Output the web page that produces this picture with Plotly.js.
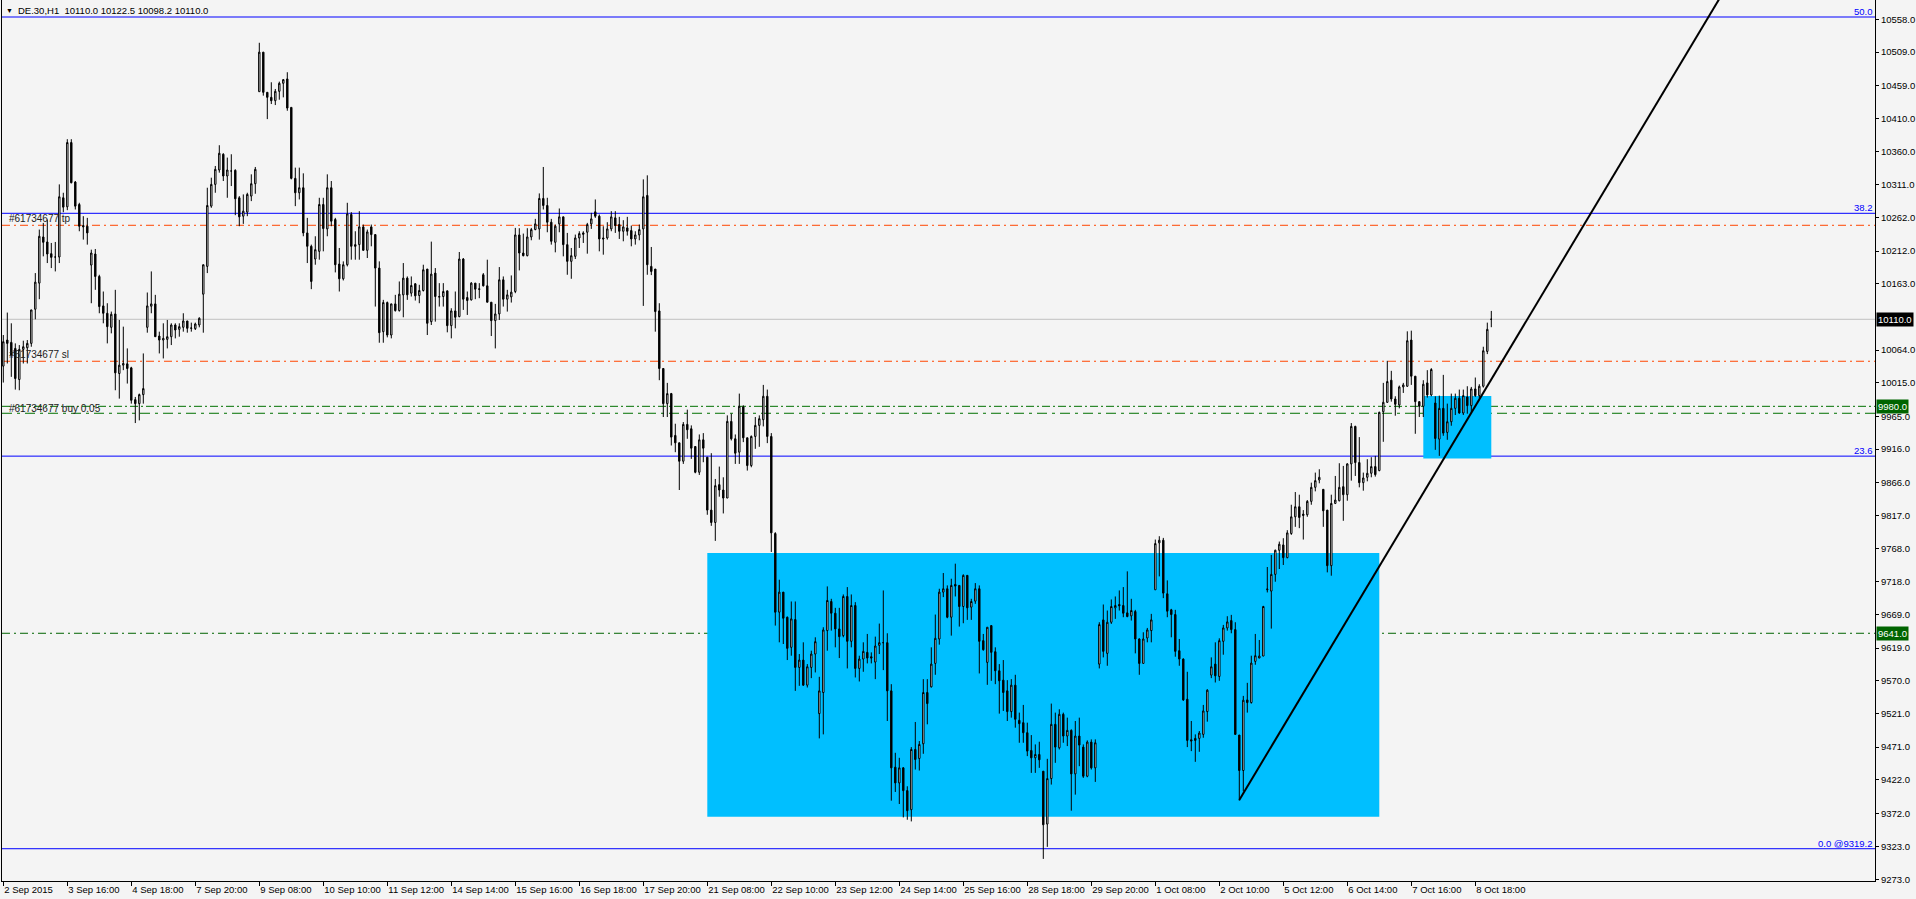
<!DOCTYPE html>
<html><head><meta charset="utf-8">
<script src="https://cdn.plot.ly/plotly-3.0.1.min.js"></script>
<style>html,body{margin:0;padding:0;background:#f4f4f4;overflow:hidden}#chart{width:1916px;height:899px}</style>
</head><body><div id="chart"></div>
<script>
// DE.30 H1 bars, 2 Sep 2015 14:00 .. 8 Oct 2015 (bar index 0..372)
const barOpen = [
10040,10079,10075.5,10066.5,10020,10065,10067.5,10074,10125,10164,
10233,10225.5,10208,10203,10203,10291.5,10278,10374,10315,10281.5,
10250,10249,10191,10207.5,10174,10130,10119,10098,10118,10029,
10041.5,10043.5,10037.5,9990,9984,9997.5,10098,10129.5,10133,10085,
10079,10080,10084,10101.5,10095,10098,10107.5,10096.5,10096,10101.5,
10147.5,10189,10279,10311.5,10333,10356.5,10324,10331.5,10332.5,10291.5,
10264,10270,10294,10312.5,10450,10509,10449,10441.5,10436.5,10450.5,
10462.5,10469,10426.5,10320.5,10299,10306.5,10239,10219,10200,10211.5,
10281.5,10245,10306.5,10259,10192.5,10170.5,10191.5,10266.5,10221.5,10221.5,
10248,10213,10248,10236.5,10186.5,10091.5,10135,10086.5,10133,10123,
10146.5,10171.5,10149,10163,10145.5,10153,10185,10106.5,10179,10143,
10144,10152.5,10100.5,10122.5,10114,10200,10142.5,10139,10164,10154.5,
10176.5,10160,10135.5,10108,10118,10169,10140,10143.5,10151.5,10236,
10209,10205,10233,10244,10245,10290.5,10280,10255,10225,10252.5,
10263,10221.5,10196.5,10204,10231.5,10239,10240,10252.5,10270.5,10264,
10231.5,10231.5,10245,10261.5,10251.5,10241.5,10246.5,10242.5,10230,10236,
10245,10295,10189,10185,10122.5,10036.5,9984,9999,9936.5,9925.5,
9898,9953,9946.5,9920,9881.5,9930,9904,9825,9806.5,9863,
9855,9843,9957.5,9931.5,9911.5,9979,9933,9891.5,9935,9951.5,
9960,9995,9935,9790,9672.5,9702.5,9665,9620,9661.5,9590,
9601,9563.5,9590,9610,9521,9552.5,9645,9688.5,9671,9647.5,
9637.5,9696,9629,9682.5,9588.5,9602.5,9612.5,9606,9598,9623,
9627,9627,9555,9441,9417.5,9440,9406,9377.5,9467.5,9454,
9476,9552.5,9561,9596,9632.5,9702.5,9707.5,9665,9714,9712.5,
9681,9727.5,9680,9689,9707.5,9630,9597.5,9652.5,9613.5,9585,
9571,9555,9524,9563.5,9511,9507.5,9492.5,9466,9455,9460,
9435,9356,9424,9505,9470,9520,9487.5,9496,9431,9487.5,
9471,9427.5,9478.5,9440,9595,9661,9611,9657.5,9679,9684,
9682.5,9671.5,9667,9673.5,9632.5,9596,9634,9645,9706,9776,
9780,9700,9676,9669,9615,9602.5,9542.5,9482,9484,9484,
9490,9524,9578.5,9595,9576.5,9629,9649,9660,9646.5,9489,
9436,9541.5,9537.5,9599,9604,9607,9706,9704,9729,9765,
9773,9754,9790,9815,9830,9819,9818,9838,9859,9870,
9856,9825,9742,9835,9839,9860,9848,9894,9950,9896,
9866,9874,9880,9890,9884,9972,9986,10019,9991,9982,
10009,10010,10079,10025,9987,9980,10015,9997,9985,9931,
9977,9941,9957,9977,9992,9970,9994,9981,10006,9996,
10010,10062,10110];
const barHigh = [
10086.5,10120,10104,10074,10071.5,10078,10079,10124,10179,10244,
10254,10259,10224,10225.5,10311.5,10299,10379,10379,10316.5,10284,
10264,10261.5,10214,10215,10176.5,10151.5,10134,10121.5,10154,10109,
10099,10066.5,10039,9994,9999,10059,10150,10181.5,10146.5,10091.5,
10104,10109,10104,10104,10104,10119,10107.5,10105,10105,10113,
10191.5,10306.5,10321.5,10339,10370,10358,10351.5,10356.5,10334,10294,
10296.5,10299,10326.5,10337.5,10523,10509,10449,10464,10454,10465,
10468,10479,10426.5,10336.5,10336.5,10328,10261.5,10221.5,10234,10291.5,
10291.5,10326.5,10316.5,10261.5,10216.5,10196.5,10284,10270,10241.5,10271.5,
10251.5,10244,10251.5,10236.5,10196.5,10139,10136.5,10133,10146.5,10166.5,
10194,10174,10174,10164,10161.5,10191.5,10185,10226,10186.5,10164,
10164,10152.5,10126.5,10151.5,10210.5,10201.5,10151.5,10165.5,10164,10164,
10179,10199,10135.5,10133,10188,10174,10154,10175.5,10246.5,10246,
10238,10246,10246.5,10260,10298,10337.5,10291.5,10260,10251.5,10275.5,
10263,10239,10216.5,10236.5,10241.5,10241.5,10254,10269,10289,10266.5,
10249,10255,10271.5,10271.5,10263,10258,10263,10250,10241.5,10251.5,
10319,10325,10218,10185,10134,10036.5,10015,10000,9954,9925.5,
9956.5,9975,9951.5,9920,9938,9940,9904,9910,9871.5,9890,
9874,9966.5,9969,9938,9999,9981.5,9933,9936.5,9964,9966.5,
10012,10005,9940,9792,9721,9702.5,9666,9688.5,9688.5,9610,
9627.5,9595,9615,9635,9576,9650,9711,9692.5,9679,9679,
9699,9710,9699,9687.5,9607.5,9627.5,9640,9612.5,9636,9655.5,
9705,9641,9565,9462.5,9455,9441,9412.5,9471,9508.5,9480,
9572.5,9572.5,9620,9669,9707.5,9731,9712.5,9722.5,9745,9712.5,
9729,9727.5,9692.5,9716,9712.5,9640,9650,9652.5,9620,9595,
9601,9571,9572.5,9579,9522.5,9534,9507.5,9489,9475,9479,
9435,9453.5,9536,9522.5,9527.5,9522.5,9515,9497.5,9510,9515,
9475,9481,9482.5,9482.5,9657.5,9684,9675,9691.5,9696,9705,
9710,9733.5,9692.5,9676,9633.5,9642.5,9649,9670,9781,9786,
9783.5,9720,9677.5,9676,9632.5,9603.5,9583.5,9510,9490,9495,
9534,9557.5,9605,9627.5,9633.5,9653.5,9666.5,9668.5,9657.5,9489,
9547.5,9567,9607.5,9640,9631,9682,9740,9758,9766,9778,
9783,9795,9833,9852,9848,9825,9840,9866,9881,9886,
9856,9825,9848,9876,9895,9891,9895,9955,9951,9934,
9881,9901,9904,9906,9972,10015,10048,10033,9995,10011,
10015,10092,10093,10025,9987,10019,10034,10037,9995,9996,
10027,9984,9999,9999,10005,10005,10010,10009,10023,10013,
10069,10105,10122.5];
const barLow = [
10015.5,10044,10024,10005,10004,10044,10044,10069,10110,10140,
10204,10194,10186.5,10181.5,10194,10270,10273,10313,10274,10241.5,
10229,10221.5,10134,10154,10119,10104,10074,10089,10004,9991.5,
10034,10014,9984,9955,9959,9984,10090,10119,10084,10059,
10051.5,10066.5,10071.5,10081.5,10084,10091.5,10090,10091.5,10094,10098,
10090,10179,10276.5,10299,10329,10316.5,10291.5,10309,10265.5,10249,
10252.5,10264,10286.5,10297.5,10450,10444,10409,10431.5,10430,10438,
10441.5,10421.5,10319,10279,10289,10234,10194,10155,10191.5,10199,
10211.5,10234,10249,10180,10151.5,10168,10189,10199,10199,10199,
10213,10201.5,10219,10129,10075,10075,10083,10081.5,10121.5,10121.5,
10113,10139,10144,10138,10134,10151.5,10086.5,10101.5,10106.5,10129,
10129,10090.5,10081.5,10096.5,10113,10124,10116.5,10138,10140,10141.5,
10159,10135.5,10085,10066.5,10109,10129,10121.5,10135,10149,10183,
10204,10204,10228,10243,10229,10274,10240,10221.5,10210,10240,
10204,10176.5,10170.5,10200,10216.5,10224,10208,10245,10261.5,10211.5,
10206.5,10229,10241.5,10239,10230,10226.5,10235,10219,10221.5,10228,
10130,10176.5,10176,10091.5,10019,9964,9964,9921.5,9911.5,9855,
9894,9931.5,9901.5,9880,9877.5,9896.5,9818,9801.5,9779,9845,
9820,9843,9929,9894,9894,9926.5,9884,9889,9916.5,9919.5,
9950,9925,9762.5,9652.5,9627.5,9625,9601,9607.5,9555,9562.5,
9562.5,9560,9574,9582.5,9484,9490,9615,9645,9620,9604,
9635,9588.5,9620,9575,9569,9583.5,9596,9596,9572.5,9610,
9586,9510,9391,9404,9386,9366,9362.5,9360,9437.5,9436,
9461,9505,9560,9579,9624,9695,9663.5,9637.5,9696,9651,
9656,9661,9661,9685,9581,9615,9564,9570,9565,9521,
9525,9510,9515,9500,9477.5,9477.5,9457.5,9432.5,9432.5,9440,
9304,9322,9415,9447.5,9467.5,9477.5,9472.5,9376,9400,9442.5,
9425,9426,9437.5,9419,9588.5,9605,9592.5,9655,9662.5,9675,
9665,9665,9660,9611,9579,9596,9627.5,9627.5,9706,9726,
9693.5,9665,9635,9606,9592.5,9540,9471,9465,9449,9464,
9485,9509,9574,9567.5,9570,9609,9645,9641,9490,9391,
9405,9522.5,9536,9594,9604,9607,9702,9648,9718,9737,
9743,9753,9788,9800,9798,9781,9815,9833,9853,9865,
9800,9732,9727,9834,9838,9809,9839,9869,9876,9859,
9854,9868,9874,9875,9883,9927,9985,9987,9966,9977,
10000,10009,10012,9939,9964,9964,9993,9995,9915,9906,
9936,9930,9951,9967,9969,9967,9969,9970,9994,9992,
10008,10058,10098.2];
const barClose = [
10076.5,10074,10056.5,10021.5,10065,10069,10074,10124,10165.5,10234,
10225,10207.5,10202.5,10203,10293,10277.5,10374,10314,10279,10249,
10248,10239,10209,10174,10129,10119,10099,10117.5,10030,10041.5,
10044,10036.5,9989,9984,9997.5,10006.5,10130,10133,10084,10079,
10081.5,10084,10101.5,10094,10099,10107.5,10096.5,10097,10103,10111.5,
10191.5,10280,10311.5,10334,10358,10324,10333,10331.5,10290,10263,
10271.5,10296.5,10312.5,10334,10509,10449,10441.5,10436.5,10450.5,10462.5,
10468,10425.5,10320.5,10299,10306.5,10239,10219,10166.5,10214,10281.5,
10245.5,10306.5,10256.5,10191.5,10170.5,10191.5,10267.5,10219,10219,10248,
10213,10240.5,10236.5,10186.5,10090,10135,10086.5,10133,10123,10147.5,
10171.5,10146.5,10160.5,10145,10153,10184,10104,10177.5,10144,10144,
10151.5,10100.5,10122.5,10113,10200,10140,10138,10164,10155,10155.5,
10160,10135.5,10108,10118,10169,10140,10146.5,10150.5,10236,10209,
10205,10233,10244,10252.5,10290.5,10280,10255,10226.5,10249,10263,
10221.5,10196.5,10205,10231.5,10238,10237,10251.5,10260,10264,10230,
10230,10245,10263,10250,10241.5,10248,10241.5,10230,10236,10244,
10293,10191.5,10181.5,10121.5,10036.5,9984,9999,9934,9925.5,9898,
9953,9945,9917.5,9881.5,9930,9917.5,9825,9806.5,9861.5,9855,
9843,9957.5,9931.5,9910,9980,9933,9891.5,9935,9951.5,9961.5,
9995,9935,9791,9672.5,9702.5,9663.5,9618.5,9662.5,9590,9601,
9563.5,9591,9610,9628.5,9555,9646,9690,9671,9647.5,9636,
9696,9629,9682.5,9588.5,9602.5,9614,9604,9604,9622,9627,
9627,9555,9440,9417.5,9440,9406,9376,9467.5,9452.5,9475,
9552.5,9536,9595,9633.5,9702.5,9707.5,9665,9712.5,9711.5,9681,
9727.5,9679,9688.5,9707.5,9629,9616.5,9650,9612.5,9585,9570,
9552.5,9524,9563.5,9512.5,9506,9492.5,9465,9455,9460,9452,
9355,9424,9505,9471,9520,9487.5,9496,9431,9487.5,9474,
9427.5,9478.5,9440,9477.5,9654,9614,9657.5,9681,9682.5,9682,
9671,9666,9675,9632.5,9596,9632.5,9646,9661,9775,9780,
9701,9674,9669,9614,9602.5,9541.5,9481,9480,9481,9492,
9525,9556,9591,9577.5,9630,9649,9658,9646.5,9490,9436,
9541,9537.5,9596.5,9607.5,9607,9681,9707,9729,9765,9774,
9754,9791,9815,9830,9814,9817,9838,9859,9869,9874,
9824,9742,9835,9840,9859,9848,9894,9950,9896,9866,
9873,9880,9890,9878,9971,9986,10017,9991,9983,10009,
10012,10078,10025,9987,9980,10013,9997,10035,9932,9977,
9940,9957,9977,9992,9970,9996,9981,10006,9996,10010,
10063,10095,10110];

// time axis labels (one every 16 bars)
const timeTickIndex = [0,16,32,48,64,80,96,112,128,144,160,176,192,208,224,240,256,272,288,304,320,336,352,368];
const timeTickLabels = ["2 Sep 2015","3 Sep 16:00","4 Sep 18:00","7 Sep 20:00","9 Sep 08:00","10 Sep 10:00","11 Sep 12:00","14 Sep 14:00","15 Sep 16:00","16 Sep 18:00","17 Sep 20:00","21 Sep 08:00","22 Sep 10:00","23 Sep 12:00","24 Sep 14:00","25 Sep 16:00","28 Sep 18:00","29 Sep 20:00","1 Oct 08:00","2 Oct 10:00","5 Oct 12:00","6 Oct 14:00","7 Oct 16:00","8 Oct 18:00"];
// price axis labels
const priceTicks = [9273,9323,9372,9422,9471,9521,9570,9619,9669,9718,9768,9817,9866,9916,9965,10015,10064,10163,10212,10262,10311,10360,10410,10459,10509,10558];

// Fibonacci levels
const fibLevels = [10561.5,10268.3,9905.6,9319.2];
const fibNames = ["50.0","38.2","23.6","0.0 @9319.2"];
// order #61734677 levels
const tpLevel = 10250.4;
const slLevel = 10047.3;
const buyLevel = 9980.0;
const buyLevel2 = 9969.6;
const hLevel9641 = 9641.0;
const lastPrice = 10110.0;
// rectangles [fromBar, toBar, lowPrice, highPrice]
const zoneBig = [176,344,9367,9761];
const zoneSmall = [355,372,9902,9995.4];
// trend line anchors [bar, price]
const trendA = [309,9392];
const trendB = [344,9741];

const barIndex = barOpen.map((_, i) => i);

const plotW = 1873, plotH = 881, mL = 2, mT = 0;
const px = v => (v - mL) / plotW;
const py = v => 1 - (v - mT) / plotH;

const blue = '#0000ff', orange = '#ff4500', green = '#007000', darkGreen = '#006400';
const shapes = [];
shapes.push({type:'rect', xref:'x', yref:'y', x0:zoneBig[0], x1:zoneBig[1], y0:zoneBig[2], y1:zoneBig[3], fillcolor:'#00bfff', line:{width:0}, layer:'below'});
shapes.push({type:'rect', xref:'x', yref:'y', x0:zoneSmall[0], x1:zoneSmall[1], y0:zoneSmall[2], y1:zoneSmall[3], fillcolor:'#00bfff', line:{width:0}, layer:'below'});
const hline = (y, color, dash, w) => ({type:'line', xref:'paper', x0:0, x1:1, yref:'y', y0:y, y1:y, line:{color:color, width:w||1, dash:dash||'solid'}, layer:'below'});
shapes.push(hline(lastPrice, '#c0c0c0'));
fibLevels.forEach(v => shapes.push(hline(v, blue)));
shapes.push(hline(tpLevel, orange, '8px,4px,2px,4px'));
shapes.push(hline(slLevel, orange, '8px,4px,2px,4px'));
shapes.push(hline(buyLevel, green, '8px,3px,2px,3px'));
shapes.push(hline(buyLevel2, green, '10px,5px,3px,5px'));
shapes.push(hline(hLevel9641, darkGreen, '8px,4px,2px,4px'));
const slope = (trendB[1] - trendA[1]) / (trendB[0] - trendA[0]);
const trendEndX = 470;
shapes.push({type:'line', xref:'x', yref:'y', x0:trendA[0], y0:trendA[1], x1:trendEndX, y1:trendA[1] + slope * (trendEndX - trendA[0]), line:{color:'#000', width:2}, layer:'above'});

const fnt = 'Liberation Sans, Arial, sans-serif';
const fs = 10, axs = 9.5;
const ann = [];
ann.push({xref:'paper', yref:'paper', x:px(4), y:py(10), xanchor:'left', yanchor:'middle', text:'▼', showarrow:false, font:{family:fnt, size:7, color:'#000'}});
ann.push({xref:'paper', yref:'paper', x:px(16), y:py(10), xanchor:'left', yanchor:'middle', text:'DE.30,H1\u00a0\u00a010110.0 10122.5 10098.2 10110.0', showarrow:false, font:{family:fnt, size:9.5, color:'#000'}});
fibLevels.forEach((v, i) => ann.push({xref:'paper', yref:'y', x:1, y:v, xanchor:'right', yanchor:'bottom', xshift:-1, yshift:-1, text:fibNames[i], showarrow:false, font:{family:fnt, size:9.5, color:blue}, borderpad:0}));
ann.push({xref:'paper', yref:'y', x:px(8), y:tpLevel, xanchor:'left', yanchor:'bottom', text:'#61734677 tp', showarrow:false, font:{family:fnt, size:fs, color:'#202020'}, borderpad:0});
ann.push({xref:'paper', yref:'y', x:px(8), y:slLevel, xanchor:'left', yanchor:'bottom', text:'#61734677 sl', showarrow:false, font:{family:fnt, size:fs, color:'#202020'}, borderpad:0});
ann.push({xref:'paper', yref:'y', x:px(8), y:buyLevel, xanchor:'left', yanchor:'middle', yshift:-2, text:'#61734677 buy 0.05', showarrow:false, font:{family:fnt, size:fs, color:'#202020'}, borderpad:0});
const priceBox = (v, bg) => ({xref:'paper', yref:'y', x:1, y:v, xanchor:'left', yanchor:'middle', xshift:1, text:v.toFixed(1), showarrow:false, bgcolor:bg, borderpad:1, font:{family:fnt, size:axs, color:'#ffffff'}});
ann.push(priceBox(lastPrice, '#000000'));
ann.push(priceBox(buyLevel, darkGreen));
ann.push(priceBox(hLevel9641, darkGreen));

const trace = {
  type:'candlestick', x:barIndex, open:barOpen, high:barHigh, low:barLow, close:barClose,
  increasing:{line:{color:'#000000', width:1}, fillcolor:'#ffffff'},
  decreasing:{line:{color:'#000000', width:1}, fillcolor:'#000000'},
  whiskerwidth:0, hoverinfo:'skip', showlegend:false
};

const layout = {
  width:1916, height:899,
  margin:{l:mL, r:41, t:mT, b:18, pad:0},
  paper_bgcolor:'#f4f4f4', plot_bgcolor:'#f4f4f4',
  showlegend:false, boxgap:0.5, hovermode:false, dragmode:false,
  font:{family:fnt, size:axs, color:'#000'},
  xaxis:{range:[-0.325, 467.925], rangeslider:{visible:false}, showgrid:false, zeroline:false,
    showline:true, linecolor:'#000', linewidth:1, mirror:true,
    ticks:'outside', ticklen:4, tickcolor:'#000', tickwidth:1,
    tickmode:'array', tickvals:timeTickIndex, ticktext:timeTickLabels, tickangle:0, automargin:false,
    ticklabelposition:'outside right', tickfont:{family:fnt, size:axs, color:'#000'}, fixedrange:true},
  yaxis:{range:[9271.0, 10586.9], side:'right', showgrid:false, zeroline:false,
    showline:true, linecolor:'#000', linewidth:1, mirror:true, automargin:false,
    ticks:'outside', ticklen:3, tickcolor:'#000', tickwidth:1,
    tickmode:'array', tickvals:priceTicks, ticktext:priceTicks.map(v => v.toFixed(1)),
    tickfont:{family:fnt, size:axs, color:'#000'}, fixedrange:true},
  shapes:shapes, annotations:ann
};

Plotly.newPlot('chart', [trace], layout, {staticPlot:true, displayModeBar:false});
</script>
</body></html>
